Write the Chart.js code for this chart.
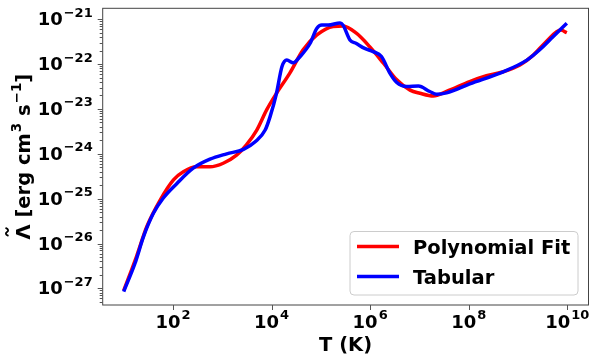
<!DOCTYPE html>
<html>
<head>
<meta charset="utf-8">
<script src="https://cdn.jsdelivr.net/npm/chart.js@4"></script>
<style>
  html, body { margin: 0; padding: 0; background: #fff; }
</style>
</head>
<body>
<canvas id="cooling-chart" width="598" height="363"></canvas>
<script>
// Data, stored as log10 exponents
const fitLogT = [1.0, 1.26, 1.47, 1.74, 2.01, 2.21, 2.48, 2.75, 3.02, 3.29, 3.49, 3.70, 3.90, 4.10, 4.37, 4.64, 4.92, 5.25, 5.45, 5.72, 5.99, 6.27, 6.54, 6.81, 7.01, 7.28, 7.55, 8.02, 8.36, 8.70, 9.04, 9.31, 9.57, 9.87, 9.99];
const fitLogLambda = [-27.05, -26.29, -25.62, -25.03, -24.58, -24.40, -24.29, -24.29, -24.21, -24.03, -23.80, -23.47, -23.02, -22.65, -22.20, -21.68, -21.35, -21.16, -21.15, -21.31, -21.61, -21.98, -22.35, -22.58, -22.65, -22.71, -22.61, -22.39, -22.26, -22.17, -22.02, -21.80, -21.50, -21.24, -21.30];

const tabLogT = [1.0, 1.23, 1.40, 1.60, 1.80, 2.08, 2.41, 2.75, 3.09, 3.43, 3.68, 3.87, 3.97, 4.10, 4.21, 4.31, 4.44, 4.58, 4.78, 4.92, 5.02, 5.15, 5.39, 5.45, 5.59, 5.72, 5.89, 6.06, 6.23, 6.40, 6.54, 6.74, 6.98, 7.21, 7.35, 7.55, 8.02, 8.70, 9.18, 9.44, 9.71, 9.99];
const tabLogLambda = [-27.07, -26.44, -25.85, -25.33, -24.99, -24.66, -24.32, -24.12, -24.00, -23.90, -23.72, -23.47, -23.17, -22.65, -22.06, -21.91, -21.97, -21.83, -21.54, -21.20, -21.13, -21.13, -21.08, -21.13, -21.46, -21.54, -21.65, -21.72, -21.83, -22.20, -22.41, -22.50, -22.49, -22.61, -22.67, -22.64, -22.44, -22.17, -21.91, -21.68, -21.39, -21.09];

// Tick exponents shown on each axis
const xTickExps = [2, 4, 6, 8, 10];
const yTickExps = [-27, -26, -25, -24, -23, -22, -21];

const FONT = '"DejaVu Sans", sans-serif';

function toPoints(logXs, logYs) {
  return logXs.map((lx, i) => ({ x: 10 ** lx, y: 10 ** logYs[i] }));
}

function supText(n) {
  return String(n).replace('-', '\u2212');
}

// Draw "10" with a raised exponent, like matplotlib mathtext
function drawPower(ctx, exp, x, y, align) {
  ctx.font = `bold 18px ${FONT}`;
  const wBase = ctx.measureText('10').width;
  ctx.font = `bold 13px ${FONT}`;
  const e = supText(exp);
  const wExp = ctx.measureText(e).width;
  const total = wBase + 1 + wExp;
  const x0 = align === 'right' ? x - total : x - total / 2;
  ctx.textAlign = 'left';
  ctx.textBaseline = 'alphabetic';
  ctx.font = `bold 18px ${FONT}`;
  ctx.fillText('10', x0, y);
  ctx.font = `bold 13px ${FONT}`;
  ctx.fillText(e, x0 + wBase + 1, y - 8.5);
}

const axesPlugin = {
  id: 'mplAxes',
  afterDraw(chart) {
    const { ctx, chartArea: a, scales } = chart;
    const xs = scales.x, ys = scales.y;
    ctx.save();

    // frame
    ctx.strokeStyle = '#444';
    ctx.lineWidth = 1;
    ctx.strokeRect(a.left, a.top, a.right - a.left, a.bottom - a.top);

    // y ticks: majors and minors
    ctx.strokeStyle = '#555';
    ctx.beginPath();
    for (let d = -28; d <= -21; d++) {
      for (let k = 1; k <= 9; k++) {
        const v = k * 10 ** d;
        if (v < ys.min || v > ys.max) continue;
        const py = Math.round(ys.getPixelForValue(v)) + 0.5;
        const len = k === 1 ? 5 : 3;
        ctx.moveTo(a.left - len, py);
        ctx.lineTo(a.left, py);
      }
    }
    // x major ticks
    xTickExps.forEach((e) => {
      const px = Math.round(xs.getPixelForValue(10 ** e)) + 0.5;
      ctx.moveTo(px, a.bottom);
      ctx.lineTo(px, a.bottom + 5);
    });
    ctx.stroke();

    // tick labels
    ctx.fillStyle = '#000';
    yTickExps.forEach((e) => {
      const py = ys.getPixelForValue(10 ** e);
      drawPower(ctx, e, a.left - 10, py + 6, 'right');
    });
    xTickExps.forEach((e) => {
      const px = xs.getPixelForValue(10 ** e);
      drawPower(ctx, e, px, a.bottom + 22.5, 'center');
    });

    // x axis title
    ctx.font = `bold 19.5px ${FONT}`;
    ctx.textAlign = 'center';
    ctx.textBaseline = 'alphabetic';
    ctx.fillText('T (K)', (a.left + a.right) / 2, 351);

    // y axis title, rotated
    const parts = [
      { t: '\u039B [erg cm', sup: false },
      { t: '3', sup: true },
      { t: ' s', sup: false },
      { t: '\u22121', sup: true },
      { t: ']', sup: false },
    ];
    const mainFont = `bold 19.5px ${FONT}`;
    const supFont = `bold 13.5px ${FONT}`;
    let total = 0;
    parts.forEach((p) => {
      ctx.font = p.sup ? supFont : mainFont;
      p.w = ctx.measureText(p.t).width + (p.sup ? 1 : 0);
      total += p.w;
    });
    ctx.save();
    ctx.translate(30, (a.top + a.bottom) / 2);
    ctx.rotate(-Math.PI / 2);
    ctx.textAlign = 'left';
    let cx = -total / 2;
    ctx.font = mainFont;
    const lamC = cx + ctx.measureText('\u039B').width / 2;
    parts.forEach((p) => {
      ctx.font = p.sup ? supFont : mainFont;
      ctx.fillText(p.t, cx + (p.sup ? 1 : 0), p.sup ? -9 : 0);
      cx += p.w;
    });
    // tilde over the Lambda
    ctx.strokeStyle = '#000';
    ctx.lineWidth = 1.8;
    ctx.beginPath();
    ctx.moveTo(lamC - 4, -21.5);
    ctx.bezierCurveTo(lamC - 2.5, -25, lamC - 1, -24.5, lamC, -23);
    ctx.bezierCurveTo(lamC + 1, -21.5, lamC + 2.5, -21, lamC + 4, -24.5);
    ctx.stroke();
    ctx.restore();

    // legend box, lower right
    const lx = 350, ly = 231.5, lw = 228, lh = 63.5;
    ctx.beginPath();
    ctx.roundRect(lx, ly, lw, lh, 4);
    ctx.fillStyle = 'rgba(255,255,255,0.8)';
    ctx.fill();
    ctx.strokeStyle = '#cccccc';
    ctx.lineWidth = 1;
    ctx.stroke();
    const rows = [chart.data.datasets[0], chart.data.datasets[1]];
    rows.forEach((ds, i) => {
      const ry = 246.5 + i * 30;
      ctx.strokeStyle = ds.borderColor;
      ctx.lineWidth = 3.5;
      ctx.beginPath();
      ctx.moveTo(357, ry);
      ctx.lineTo(399, ry);
      ctx.stroke();
      ctx.fillStyle = '#000';
      ctx.font = `bold 19.5px ${FONT}`;
      ctx.textAlign = 'left';
      ctx.textBaseline = 'alphabetic';
      ctx.fillText(ds.label, 413, ry + 7);
    });

    ctx.restore();
  },
};

const chart = new Chart(document.getElementById('cooling-chart'), {
  type: 'line',
  data: {
    datasets: [
      {
        label: 'Polynomial Fit',
        data: toPoints(fitLogT, fitLogLambda),
        borderColor: '#ff0000',
        borderWidth: 3.5,
        pointRadius: 0,
        cubicInterpolationMode: 'monotone',
        order: 1,
      },
      {
        label: 'Tabular',
        data: toPoints(tabLogT, tabLogLambda),
        borderColor: '#0000ff',
        borderWidth: 3.5,
        pointRadius: 0,
        cubicInterpolationMode: 'monotone',
        order: 0,
      },
    ],
  },
  options: {
    responsive: false,
    animation: false,
    devicePixelRatio: 1,
    layout: { padding: { left: 0, right: 9.5, top: 8.3, bottom: 0 } },
    plugins: {
      legend: { display: false },
      tooltip: { enabled: false },
    },
    scales: {
      x: {
        type: 'logarithmic',
        min: 10 ** 0.574,
        max: 10 ** 10.43,
        grid: { display: false },
        border: { display: false },
        ticks: { display: false },
        afterBuildTicks: (s) => { s.ticks = xTickExps.map((e) => ({ value: 10 ** e })); },
        afterFit: (s) => { s.height = 58; },
      },
      y: {
        type: 'logarithmic',
        min: 10 ** -27.37,
        max: 10 ** -20.755,
        grid: { display: false },
        border: { display: false },
        ticks: { display: false },
        afterBuildTicks: (s) => { s.ticks = yTickExps.map((e) => ({ value: 10 ** e })); },
        afterFit: (s) => { s.width = 102.7; },
      },
    },
  },
  plugins: [axesPlugin],
});
</script>
</body>
</html>
